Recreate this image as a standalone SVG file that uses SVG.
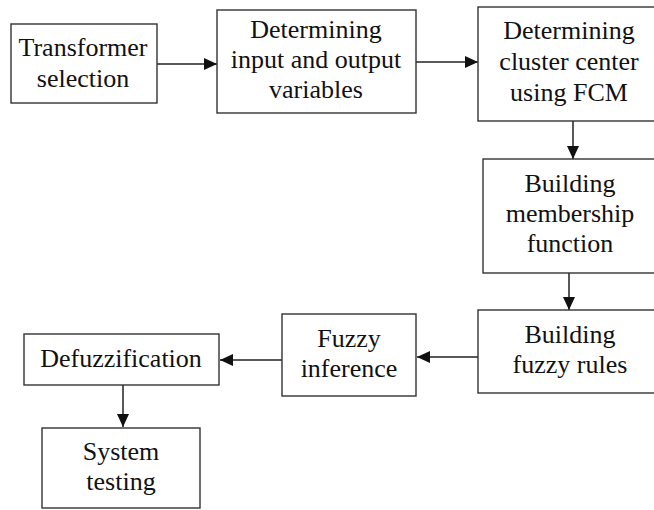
<svg xmlns="http://www.w3.org/2000/svg" width="654" height="510" viewBox="0 0 654 510">
<style>
.box{fill:#fff;stroke:#333;stroke-width:1.4}
.t{font-family:"Liberation Serif","Times New Roman",serif;font-size:26px;fill:#111;text-anchor:middle}
.c{stroke:#222;stroke-width:1.5;fill:none}
</style>
<defs>
<marker id="ah" viewBox="0 0 13 12" refX="13" refY="6" markerWidth="13" markerHeight="12" markerUnits="userSpaceOnUse" orient="auto">
<path d="M0,0 L13,6 L0,12 z" fill="#111"/>
</marker>
</defs>
<rect width="654" height="510" fill="#fff"/>
<g id="connectors">
<line class="c" x1="157" y1="64" x2="217" y2="64" marker-end="url(#ah)"/>
<line class="c" x1="416" y1="62" x2="478" y2="62" marker-end="url(#ah)"/>
<line class="c" x1="573" y1="121" x2="573" y2="159" marker-end="url(#ah)"/>
<line class="c" x1="569" y1="273" x2="569" y2="310" marker-end="url(#ah)"/>
<line class="c" x1="478" y1="357" x2="417" y2="357" marker-end="url(#ah)"/>
<line class="c" x1="282" y1="360" x2="220" y2="360" marker-end="url(#ah)"/>
<line class="c" x1="123" y1="385" x2="123" y2="427" marker-end="url(#ah)"/>
</g>
<g id="n1"><rect class="box" x="11" y="24" width="146" height="79"/>
<text class="t" x="83" y="56">Transformer</text><text class="t" x="83" y="87">selection</text></g>
<g id="n2"><rect class="box" x="217" y="10" width="199" height="103"/>
<text class="t" x="316" y="38">Determining</text><text class="t" x="316" y="68">input and output</text><text class="t" x="316" y="98">variables</text></g>
<g id="n3"><rect class="box" x="478" y="7" width="190" height="114"/>
<text class="t" x="569" y="39">Determining</text><text class="t" x="569" y="70">cluster center</text><text class="t" x="569" y="101">using FCM</text></g>
<g id="n4"><rect class="box" x="483" y="159" width="190" height="114"/>
<text class="t" x="570" y="192">Building</text><text class="t" x="570" y="222">membership</text><text class="t" x="570" y="252">function</text></g>
<g id="n5"><rect class="box" x="478" y="310" width="190" height="83"/>
<text class="t" x="570" y="343">Building</text><text class="t" x="570" y="373">fuzzy rules</text></g>
<g id="n6"><rect class="box" x="282" y="314" width="134" height="82"/>
<text class="t" x="349" y="347">Fuzzy</text><text class="t" x="349" y="377">inference</text></g>
<g id="n7"><rect class="box" x="24" y="334" width="195" height="51"/>
<text class="t" x="121" y="367">Defuzzification</text></g>
<g id="n8"><rect class="box" x="42" y="428" width="158" height="80"/>
<text class="t" x="121" y="460">System</text><text class="t" x="121" y="490">testing</text></g>
</svg>
